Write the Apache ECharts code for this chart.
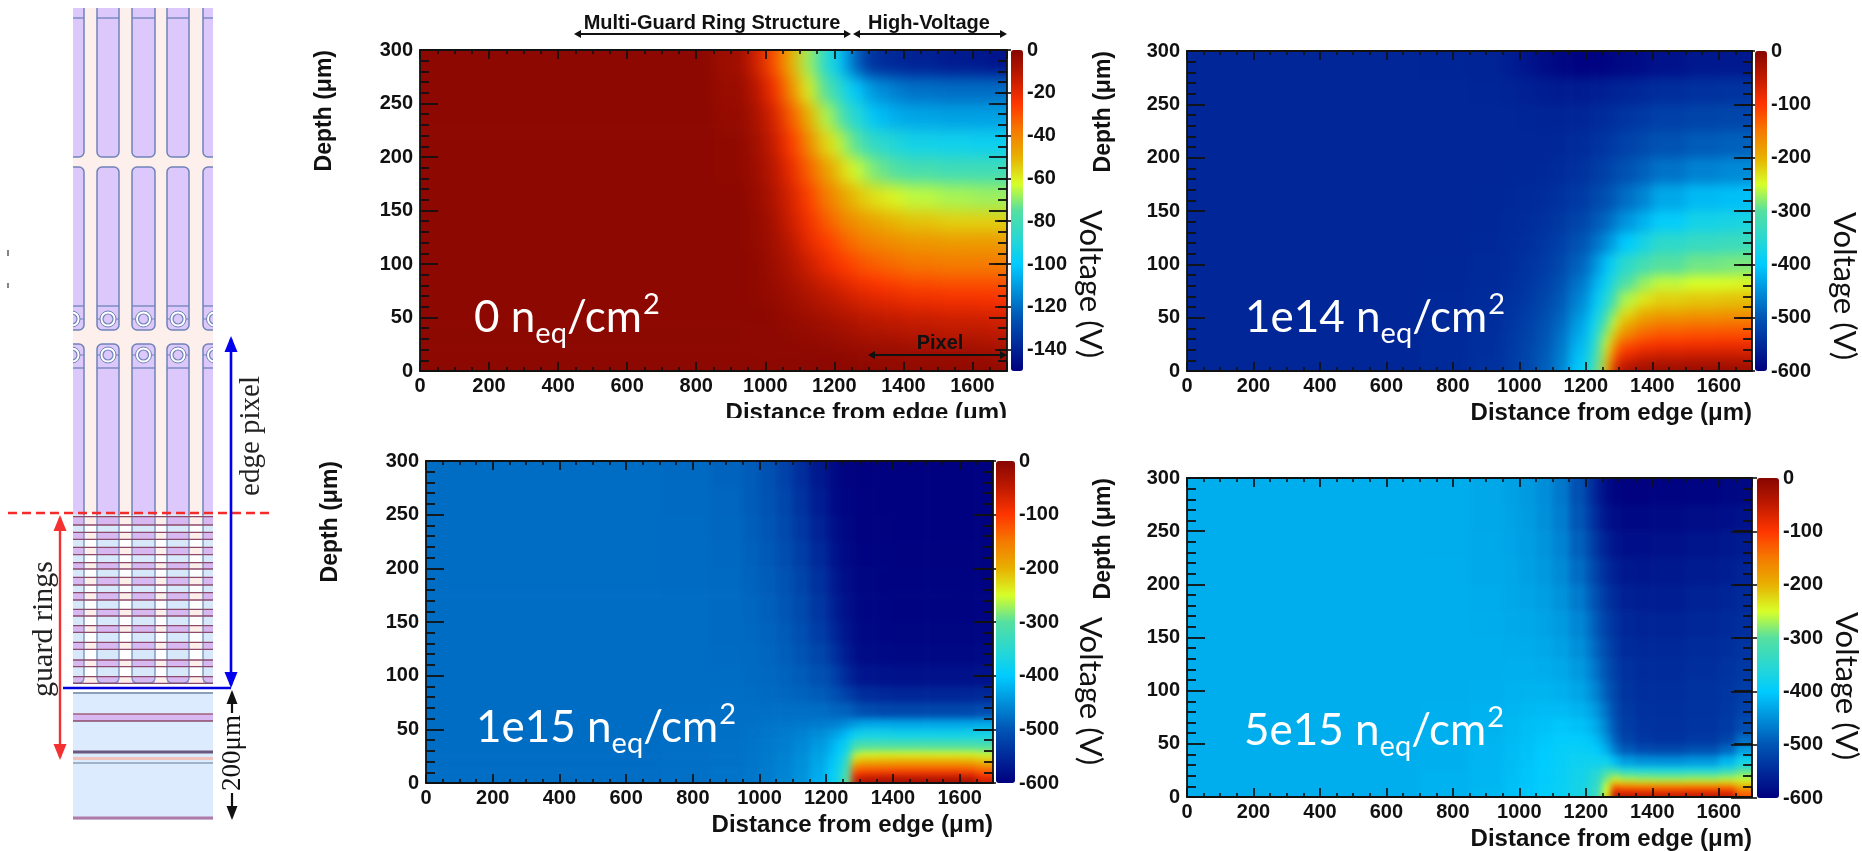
<!DOCTYPE html>
<html><head><meta charset="utf-8">
<style>html,body{margin:0;padding:0;background:#fff;width:1862px;height:851px;overflow:hidden}
.clip,#main{position:absolute;left:0;top:0;width:1862px;height:851px}
.heat{width:1862px;height:851px}
#main{filter:blur(0.4px)}</style>
<script src="https://cdn.jsdelivr.net/npm/echarts@6/dist/echarts.min.js"></script>
</head><body>
<div class="clip"><div class="heat"></div></div>
<div class="clip"><div class="heat"></div></div>
<div class="clip"><div class="heat"></div></div>
<div class="clip"><div class="heat"></div></div>
<div id="main"></div>
<script>
const distanceEdges=[0,400,700,850,950,1000,1050,1100,1150,1200,1225,1250,1275,1300,1350,1400,1500,1600,1650,1700];
const depthEdgesTopDown=[300,275,250,225,200,175,150,130,110,90,75,60,50,40,30,25,20,15,10,5,0];
const distanceTicks=[0,200,400,600,800,1000,1200,1400,1600];
const depthTicks=[0,50,100,150,200,250,300];
const barTicksLow=[0,-20,-40,-60,-80,-100,-120,-140];
const barTicksHigh=[0,-100,-200,-300,-400,-500,-600];
const fluenceLabels=['0','1e14','1e15','5e15'];
const voltage0=[
[-1,-1,-1,-5,-16,-30,-50,-68,-88,-100,-110,-122,-130,-136,-138,-140,-142,-143,-144],
[-1,-1,-1,-4,-11,-23,-42,-60,-76,-87,-94,-100,-106,-112,-116,-119,-120,-120,-120],
[-1,-1,-1,-3,-8,-17,-32,-50,-66,-76,-83,-88,-94,-102,-106,-108,-109,-109,-109],
[-1,-1,-1,-2,-6,-14,-26,-41,-56,-64,-70,-75,-80,-86,-90,-94,-95,-96,-96],
[-1,-1,-1,-2,-5,-11,-21,-33,-46,-54,-59,-63,-67,-72,-76,-79,-81,-81,-81],
[-1,-1,-1,-1,-4,-9,-17,-27,-38,-45,-49,-52,-55,-58,-61,-65,-67,-68,-68],
[-1,-1,-1,-1,-3,-7,-15,-23,-32,-38,-41,-43,-45,-48,-51,-53,-55,-55,-55],
[-1,-1,-1,-1,-3,-6,-12,-20,-26,-31,-34,-36,-38,-40,-42,-44,-45,-45,-45],
[-1,-1,-1,-1,-2,-5,-9,-15,-21,-25,-27,-29,-31,-33,-35,-37,-38,-38,-38],
[-1,-1,-1,-1,-2,-4,-7,-11,-15,-18,-20,-22,-23,-25,-27,-29,-30,-30,-30],
[-1,-1,-1,-1,-2,-3,-5,-8,-11,-13,-15,-16,-17,-19,-20,-22,-23,-23,-24],
[-1,-1,-1,-1,-1,-2,-4,-6,-8,-10,-11,-12,-13,-14,-15,-16,-17,-18,-18],
[-1,-1,-1,-1,-1,-2,-3,-4,-6,-7,-8,-9,-10,-11,-12,-13,-14,-14,-15],
[-1,-1,-1,-1,-1,-1,-2,-3,-4,-5,-6,-7,-8,-8,-9,-10,-11,-11,-12],
[-1,-1,-1,-1,-1,-1,-2,-2,-3,-4,-4,-5,-5,-6,-6,-7,-8,-8,-9],
[-1,-1,-1,-1,-1,-1,-1,-2,-2,-3,-3,-4,-4,-5,-5,-6,-6,-7,-7],
[-1,-1,-1,-1,-1,-1,-1,-1,-2,-2,-3,-3,-3,-4,-4,-5,-5,-5,-6],
[-1,-1,-1,-1,-1,-1,-1,-1,-1,-2,-2,-2,-3,-3,-3,-4,-4,-4,-5],
[-1,-1,-1,-1,-1,-1,-1,-1,-1,-1,-2,-2,-2,-2,-3,-3,-3,-3,-4],
[-1,-1,-1,-1,-1,-1,-1,-1,-1,-1,-1,-1,-1,-2,-2,-2,-2,-2,-3]];
const voltage1e14=[
[-555,-555,-556,-558,-565,-575,-585,-592,-596,-597,-597,-595,-592,-588,-584,-578,-572,-570,-570],
[-555,-555,-555,-556,-558,-562,-566,-568,-568,-566,-564,-562,-560,-556,-552,-547,-542,-540,-540],
[-555,-555,-555,-555,-555,-556,-557,-557,-556,-553,-550,-547,-543,-537,-531,-525,-520,-518,-517],
[-555,-555,-555,-555,-555,-555,-555,-553,-549,-544,-540,-535,-530,-522,-513,-503,-495,-491,-490],
[-555,-555,-555,-555,-554,-553,-552,-548,-542,-535,-529,-522,-514,-503,-490,-475,-462,-456,-454],
[-555,-555,-555,-554,-552,-550,-546,-541,-532,-522,-514,-505,-495,-478,-458,-430,-415,-411,-410],
[-555,-555,-555,-553,-550,-547,-542,-533,-520,-507,-495,-483,-468,-445,-420,-395,-375,-370,-368],
[-555,-555,-555,-552,-548,-544,-536,-524,-505,-488,-472,-452,-430,-400,-372,-345,-335,-330,-330],
[-555,-555,-554,-551,-546,-540,-530,-515,-490,-465,-440,-405,-380,-345,-320,-300,-290,-287,-285],
[-555,-555,-553,-550,-544,-536,-524,-505,-475,-445,-415,-385,-345,-305,-275,-258,-250,-248,-245],
[-555,-555,-552,-548,-541,-532,-518,-497,-462,-428,-395,-355,-310,-265,-235,-220,-215,-212,-210],
[-555,-555,-552,-547,-538,-528,-512,-490,-450,-415,-375,-325,-280,-230,-200,-190,-182,-180,-178],
[-555,-555,-551,-546,-536,-525,-507,-483,-440,-400,-355,-300,-250,-200,-170,-155,-150,-148,-146],
[-555,-555,-551,-545,-534,-522,-503,-476,-430,-388,-340,-275,-215,-165,-135,-125,-120,-118,-118],
[-555,-555,-550,-544,-533,-520,-500,-472,-422,-378,-325,-250,-180,-130,-110,-100,-97,-95,-95],
[-555,-555,-550,-544,-532,-519,-498,-470,-418,-372,-318,-240,-160,-112,-92,-85,-82,-80,-80],
[-555,-555,-550,-544,-531,-518,-497,-468,-414,-366,-310,-232,-140,-95,-75,-68,-66,-65,-65],
[-555,-555,-550,-543,-530,-517,-495,-465,-410,-360,-303,-225,-120,-75,-58,-52,-50,-48,-50],
[-555,-555,-550,-543,-530,-516,-494,-463,-406,-355,-297,-215,-95,-55,-40,-35,-32,-32,-35],
[-555,-555,-550,-542,-529,-515,-492,-460,-402,-350,-290,-205,-70,-35,-22,-18,-16,-16,-20]];
const voltage1e15=[
[-480,-480,-482,-487,-495,-505,-522,-545,-570,-585,-592,-596,-598,-599,-599,-599,-599,-599,-599],
[-480,-480,-482,-486,-494,-503,-518,-540,-565,-582,-590,-595,-597,-598,-599,-599,-599,-599,-599],
[-480,-480,-481,-485,-492,-500,-514,-534,-558,-576,-586,-592,-596,-598,-598,-599,-599,-599,-598],
[-480,-480,-481,-484,-490,-497,-509,-527,-550,-570,-582,-589,-594,-596,-597,-598,-598,-598,-597],
[-480,-480,-481,-483,-488,-494,-504,-520,-542,-562,-576,-585,-591,-594,-596,-597,-597,-597,-596],
[-480,-480,-480,-482,-486,-491,-500,-514,-535,-555,-570,-581,-589,-593,-595,-596,-596,-596,-595],
[-480,-480,-480,-482,-484,-488,-496,-508,-528,-546,-562,-576,-586,-591,-593,-594,-594,-594,-593],
[-480,-480,-480,-481,-483,-486,-492,-502,-518,-534,-550,-568,-581,-587,-589,-590,-590,-590,-589],
[-480,-480,-480,-480,-482,-484,-488,-495,-506,-518,-532,-552,-568,-575,-578,-580,-580,-580,-578],
[-480,-480,-480,-479,-480,-482,-485,-488,-494,-502,-512,-525,-538,-548,-552,-556,-556,-555,-552],
[-480,-480,-479,-478,-478,-478,-478,-478,-480,-485,-488,-490,-500,-510,-516,-518,-518,-516,-510],
[-480,-480,-479,-477,-476,-474,-472,-470,-468,-464,-460,-452,-440,-430,-430,-432,-432,-430,-428],
[-480,-480,-479,-477,-475,-472,-468,-462,-452,-440,-428,-410,-385,-375,-375,-378,-378,-375,-372],
[-480,-480,-478,-476,-474,-470,-465,-456,-442,-425,-405,-380,-320,-310,-310,-310,-310,-310,-315],
[-480,-480,-478,-476,-473,-469,-463,-453,-436,-418,-395,-355,-270,-252,-248,-248,-248,-250,-255],
[-480,-480,-478,-476,-473,-469,-462,-451,-433,-412,-388,-340,-230,-215,-212,-210,-210,-212,-222],
[-480,-480,-478,-476,-473,-468,-461,-450,-431,-408,-380,-325,-190,-175,-172,-170,-170,-172,-185],
[-480,-480,-478,-475,-472,-468,-460,-449,-429,-404,-375,-315,-140,-128,-125,-122,-122,-125,-140],
[-480,-480,-478,-475,-472,-467,-460,-448,-427,-400,-370,-305,-95,-80,-75,-72,-72,-76,-100],
[-480,-480,-478,-475,-472,-467,-459,-447,-425,-396,-365,-295,-55,-32,-26,-24,-24,-28,-60]];
const voltage5e15=[
[-425,-425,-426,-430,-435,-442,-452,-470,-505,-540,-565,-585,-595,-598,-598,-597,-595,-592,-590],
[-425,-425,-426,-430,-434,-440,-450,-466,-498,-530,-555,-575,-585,-590,-590,-588,-585,-582,-578],
[-425,-425,-426,-429,-433,-438,-447,-461,-490,-518,-542,-562,-575,-582,-582,-580,-576,-572,-568],
[-425,-425,-425,-428,-431,-436,-443,-455,-480,-505,-528,-548,-562,-572,-574,-572,-568,-564,-558],
[-425,-425,-425,-427,-430,-433,-438,-448,-468,-492,-514,-535,-550,-562,-565,-565,-560,-556,-550],
[-425,-425,-425,-426,-428,-430,-434,-442,-458,-480,-502,-524,-540,-554,-558,-558,-554,-550,-544],
[-425,-425,-425,-425,-426,-427,-430,-436,-450,-470,-492,-514,-532,-548,-552,-552,-548,-544,-538],
[-425,-425,-425,-425,-424,-424,-426,-430,-442,-460,-482,-505,-525,-542,-548,-548,-544,-540,-533],
[-425,-425,-425,-424,-422,-420,-420,-423,-432,-448,-468,-495,-518,-538,-545,-545,-541,-536,-528],
[-425,-425,-424,-422,-419,-416,-414,-414,-420,-432,-450,-480,-510,-533,-542,-543,-540,-534,-522],
[-425,-425,-424,-421,-417,-412,-408,-404,-408,-418,-435,-465,-500,-528,-540,-542,-538,-530,-510],
[-425,-425,-423,-420,-415,-410,-404,-398,-398,-405,-420,-448,-488,-520,-535,-538,-532,-520,-480],
[-425,-425,-423,-419,-414,-408,-401,-394,-390,-394,-404,-425,-465,-495,-510,-514,-505,-485,-440],
[-425,-425,-423,-419,-413,-407,-400,-392,-385,-382,-384,-385,-415,-440,-450,-452,-445,-420,-380],
[-425,-425,-423,-418,-413,-406,-399,-391,-381,-372,-365,-340,-345,-370,-375,-378,-375,-355,-320],
[-425,-425,-422,-418,-412,-406,-398,-390,-379,-366,-350,-305,-295,-310,-318,-320,-315,-300,-285],
[-425,-425,-422,-418,-412,-405,-398,-389,-377,-362,-342,-285,-245,-265,-270,-272,-268,-260,-255],
[-425,-425,-422,-418,-411,-405,-397,-389,-376,-358,-335,-265,-175,-190,-195,-198,-195,-190,-215],
[-425,-425,-422,-417,-411,-404,-397,-388,-375,-355,-328,-250,-95,-105,-108,-110,-108,-105,-160],
[-425,-425,-422,-417,-411,-404,-396,-388,-374,-352,-320,-235,-40,-45,-48,-48,-46,-50,-120]];
const voltages=[voltage0,voltage1e14,voltage1e15,voltage5e15];
const barMin=[-150,-600,-600,-600];
const barTicks=[barTicksLow,barTicksHigh,barTicksHigh,barTicksHigh];
const palette=['#00007f','#002a9a','#0055b5','#0090da','#00ccff','#2ad8d0','#55e0a0','#d8ff28','#e8b000','#f57a00','#ff3500','#c01a00','#870600'];

const panels=[
 {l:420,r:1007,t:50,b:371,bl:1011,bw:12,lab:[474,332],vx:1090,vy:284,blur:7.5,nameOff:84},
 {l:1187,r:1752,t:51,b:371,bl:1755,bw:12,lab:[1245,332],vx:1844,vy:286,blur:5.5,nameOff:72},
 {l:426,r:993,t:461,b:783,bl:996,bw:19,lab:[476,742],vx:1090,vy:691,blur:3.5,nameOff:84},
 {l:1187,r:1752,t:478,b:798,bl:1757,bw:22,lab:[1244,745],vx:1846,vy:686,blur:3,nameOff:72}];

// ---- blurred heat layers, one for each panel
const rowsOf=m=>{const out=[];m.forEach((row,j)=>row.forEach((v,i)=>out.push([distanceEdges[i],distanceEdges[i+1],depthEdgesTopDown[j+1],depthEdgesTopDown[j],v])));return out;};
const clips=document.querySelectorAll('.clip');
const heats=document.querySelectorAll('.heat');
panels.forEach((p,i)=>{
 clips[i].style.clipPath=`path('M${p.l} ${p.t}H${p.r}V${p.b}H${p.l}Z')`;
 heats[i].style.filter=`blur(${p.blur}px)`;
 const chart=echarts.init(heats[i],null,{renderer:'canvas'});
 chart.setOption({animation:false,
  grid:{left:p.l,top:p.t,width:p.r-p.l,height:p.b-p.t},
  xAxis:{type:'value',min:0,max:1700,show:false},
  yAxis:{type:'value',min:0,max:300,show:false},
  visualMap:{show:false,type:'continuous',dimension:4,min:barMin[i],max:0,inRange:{color:palette}},
  series:[{type:'custom',silent:true,data:rowsOf(voltages[i]),encode:{x:[0,1],y:[2,3]},progressive:0,
   renderItem:(params,api)=>{
    const x0=api.value(0),x1=api.value(1),y0=api.value(2),y1=api.value(3);
    const a=api.coord([x0,y1]),b=api.coord([x1,y0]);
    let L=a[0],T=a[1],R=b[0]+0.6,B=b[1]+0.6;
    if(x0===0)L-=30; if(x1===1700)R+=30; if(y0===0)B+=30; if(y1===300)T-=30;
    return {type:'rect',shape:{x:L,y:T,width:R-L,height:B-T},style:{fill:api.visual('color')}};
   }}]
 });
});

// ---- axes, colour bars, text
const F='"Liberation Sans",Arial,sans-serif';
const INK='#111';
const lineS={show:true,lineStyle:{color:INK,width:1.8}};
const grid=[],xAxis=[],yAxis=[],visualMap=[];
panels.forEach((p,i)=>{
 const g=grid.length;
 grid.push({left:p.l,top:p.t,width:p.r-p.l,height:p.b-p.t,containLabel:false});
 const xTick={show:true,inside:true,length:9,lineStyle:{color:INK,width:1.7}};
 const xMinor={show:true,splitNumber:4,length:4,lineStyle:{color:INK,width:1.6}};
 const yTick={show:true,inside:true,length:18,lineStyle:{color:INK,width:1.8}};
 const yMinor={show:true,splitNumber:5,length:9,lineStyle:{color:INK,width:1.8}};
 const xBase={type:'value',gridIndex:g,min:0,max:1700,interval:200,splitLine:{show:false},axisLine:{...lineS,onZero:false},axisTick:xTick,minorTick:xMinor};
 xAxis.push({...xBase,position:'bottom',axisLabel:{show:true,margin:5,color:INK,fontFamily:F,fontWeight:'bold',fontSize:20,showMaxLabel:false,formatter:v=>distanceTicks.includes(v)?String(v):''},
   name:'Distance from edge (μm)',nameLocation:'end',nameGap:0,nameTextStyle:{color:INK,fontFamily:F,fontWeight:'bold',fontSize:24,align:'right',verticalAlign:'top',padding:[30,0,0,0]}});
 xAxis.push({...xBase,position:'top',axisLabel:{show:false}});
 const yBase={type:'value',gridIndex:g,min:0,max:300,interval:50,splitLine:{show:false},axisLine:{...lineS,onZero:false},axisTick:yTick,minorTick:yMinor};
 yAxis.push({...yBase,position:'left',axisLabel:{show:true,margin:7,color:INK,fontFamily:F,fontWeight:'bold',fontSize:20,formatter:v=>depthTicks.includes(v)?String(v):''},
   name:'Depth (μm)',nameLocation:'end',nameGap:0,nameRotate:90,nameTextStyle:{color:INK,fontFamily:F,fontWeight:'bold',fontSize:23,align:'right',verticalAlign:'bottom',padding:[0,0,p.nameOff,0]}});
 yAxis.push({...yBase,position:'right',axisLabel:{show:false}});
 // colour bar axis
 const gb=grid.length;
 grid.push({left:p.bl,top:p.t,width:p.bw,height:p.b-p.t});
 xAxis.push({type:'value',gridIndex:gb,min:0,max:1,show:false});
 yAxis.push({type:'value',gridIndex:gb,min:barMin[i],max:0,position:'right',splitLine:{show:false},axisLine:{show:false},
   axisTick:{show:true,inside:true,length:p.bw+4,customValues:barTicks[i],lineStyle:{color:INK,width:1.6}},
   axisLabel:{show:true,inside:false,margin:4,color:INK,fontFamily:F,fontWeight:'bold',fontSize:20,customValues:barTicks[i],formatter:v=>String(v)}});
 visualMap.push({show:true,type:'continuous',seriesIndex:[],min:barMin[i],max:0,left:p.bl,top:p.t,itemWidth:p.bw,itemHeight:p.b-p.t,padding:0,text:null,showLabel:false,calculable:false,inRange:{color:palette}});
});

// graphic helpers
const E=[];
const rect=(x,y,w,h,fill,z=1,r=0,stroke,lw)=>E.push({type:'rect',silent:true,z,shape:{x,y,width:w,height:h,r},style:{fill,stroke,lineWidth:lw}});
const line=(x1,y1,x2,y2,stroke,lw=1,z=2,dash)=>E.push({type:'line',silent:true,z,shape:{x1,y1,x2,y2},style:{stroke,lineWidth:lw,lineDash:dash}});
const tri=(pts,fill,z=6)=>E.push({type:'polygon',silent:true,z,shape:{points:pts},style:{fill}});
const txt=(t,x,y,font,fill,rotation=0,z=8,align='center',va='middle')=>E.push({type:'text',silent:true,z,x,y,rotation,style:{text:t,font,fill,align,verticalAlign:va}});
const ring=(cx,cy,r,fill,stroke,lw,z=3)=>E.push({type:'circle',silent:true,z,shape:{cx,cy,r},style:{fill,stroke,lineWidth:lw}});
const hArrow=(x1,x2,y,c='#111',lw=1.8,h=7,w=4)=>{line(x1+2,y,x2-2,y,c,lw,7);tri([[x1,y],[x1+h,y-w],[x1+h,y+w]],c,7);tri([[x2,y],[x2-h,y-w],[x2-h,y+w]],c,7);};
const vArrow=(x,y1,y2,c,lw,h,w)=>{line(x,y1+3,x,y2-3,c,lw,12);tri([[x,y1],[x-w,y1+h],[x+w,y1+h]],c,12);tri([[x,y2],[x-w,y2-h],[x+w,y2-h]],c,12);};

// schematic
const SL=73,SR=213;
const strips=[[60,84],[97,119],[132,155],[167,189],[203,226]];
const PURPLE='#dcc8fb',PINK='#fdf0ec',EDGE='#6f82b8';
rect(SL,8,SR-SL,505,PINK,1);
strips.forEach(([a,b])=>{
 const w=b-a,c=(a+b)/2;
 rect(a,-8,w,165,PURPLE,2,5,EDGE,1.5);
 rect(a,167,w,163,PURPLE,2,5,EDGE,1.5);
 rect(a,344,w,180,PURPLE,2,5,EDGE,1.5);
 line(a,18,b,18,EDGE,1.3,3);line(a,306,b,306,EDGE,1.3,3);line(a,368,b,368,EDGE,1.3,3);
 [319,355].forEach(y=>{line(a,y,b,y,EDGE,1,3);ring(c,y,8,'#fff',EDGE,1,4);ring(c,y,5,PURPLE,EDGE,1.2,4);});
});
// guard-ring zone
rect(SL,515,SR-SL,171,'#fff',4);
const ringPairs=[[290,315],[337,358],[382,404],[428,447],[472,495],[518,540],[568,588],[617,637],[667,688],[720,740],[770,790]];
ringPairs.forEach(([a,b])=>rect(SL,420+a/3,SR-SL,(b-a)/3,'#fdeeea',4));
strips.forEach(([a,b])=>{
 rect(a,514,b-a,169,'#d8e8fb',5,5);
 ringPairs.forEach(([u,v])=>rect(a,420+u/3,b-a,Math.min((v-u)/3,683-420-u/3),'#d8b8f0',5));
 line(a,514,a,678,'#6f8cb8',1.3,7);line(b,514,b,678,'#6f8cb8',1.3,7);
 E.push({type:'arc',silent:true,z:7,shape:{cx:a+5,cy:678,r:5,startAngle:Math.PI/2,endAngle:Math.PI,clockwise:true},style:{stroke:'#6f8cb8',fill:null,lineWidth:1.3}});
 E.push({type:'arc',silent:true,z:7,shape:{cx:b-5,cy:678,r:5,startAngle:0,endAngle:Math.PI/2,clockwise:true},style:{stroke:'#6f8cb8',fill:null,lineWidth:1.3}});
 line(a+5,683,b-5,683,'#6f8cb8',1.3,7);
});
ringPairs.forEach(([a,b])=>{line(SL,420+a/3,SR,420+a/3,'#8b4a6a',1.3,8);line(SL,420+b/3,SR,420+b/3,'#8b4a6a',1.3,8);});
// outer zone
rect(SL,692,SR-SL,128,'#dcebfd',4);
line(SL,693,SR,693,'#8aa0b8',1.8,5);
rect(SL,714,SR-SL,7,'#d8b8f0',5);
line(SL,714,SR,714,'#a2607a',1.5,6);line(SL,721,SR,721,'#8b4a6a',1.3,6);
line(SL,752,SR,752,'#6a5880',3,6);
rect(SL,757,SR-SL,3,'#f0c4bc',6);
line(SL,763,SR,763,'#8aa0b8',1.6,6);
line(SL,818,SR,818,'#b07aa8',3,6);
// white covers for partially cut strips
rect(0,0,SL,851,'#fff',9);rect(SR,0,60,851,'#fff',9);rect(0,0,300,8,'#fff',9);
// little marks
line(8,250,8,256,'#333',1.2,10);line(8,283,8,288,'#333',1.2,10);
// annotation of the schematic
line(8,513,270,513,'#f52a2a',2.4,11,[9,5]);
line(63,688,231,688,'#0000e0',2.4,11);
vArrow(231,336,688,'#0000ee',2.6,16,6.5);
vArrow(60,515,760,'#f53030',2.4,16,6.5);
vArrow(232,690,820,'#111',2.2,14,5.5);
rect(222,713,22,80,'#fff',13);
txt('edge pixel',251,436,'29px "Liberation Serif",serif','#222',Math.PI/2,14);
txt('guard rings',44,629,'30px "Liberation Serif",serif','#222',Math.PI/2,14);
txt('200μm',233,753,'27px "Liberation Serif",serif','#111',Math.PI/2,14);

// panel A annotation
txt('Multi-Guard Ring Structure',712,23,`bold 20px ${F}`,'#111');
txt('High-Voltage',929,23,`bold 20px ${F}`,'#111');
hArrow(574,851,34);hArrow(853,1007,34);
txt('Pixel',940,343,`bold 20px ${F}`,'#111');
hArrow(868,1007,355);
rect(690,418,340,12,'#fff',9);

// white labels with subscript and superscript
const mctx=document.createElement('canvas').getContext('2d');
const put=(t,x,y,size)=>{const font=`${size}px Lato,sans-serif`;mctx.font=font;E.push({type:'text',silent:true,z:20,x,y:y-0.33*size,style:{text:t,font,fill:'#fff',align:'left',verticalAlign:'middle'}});return x+mctx.measureText(t).width;};
panels.forEach((p,i)=>{
 let [x,y]=p.lab;
 x=put(fluenceLabels[i]+' n',x,y,44);
 x=put('eq',x,y+11,29);
 x=put('/cm',x,y,44);
 put('2',x+1,y-18,29);
 txt('Voltage (V)',p.vx,p.vy,'31px Lato,sans-serif','#111',-Math.PI/2,15);
});

const main=echarts.init(document.getElementById('main'),null,{renderer:'canvas'});
main.setOption({animation:false,backgroundColor:'transparent',grid,xAxis,yAxis,visualMap,series:[],graphic:{elements:E}});
</script>
</body></html>
